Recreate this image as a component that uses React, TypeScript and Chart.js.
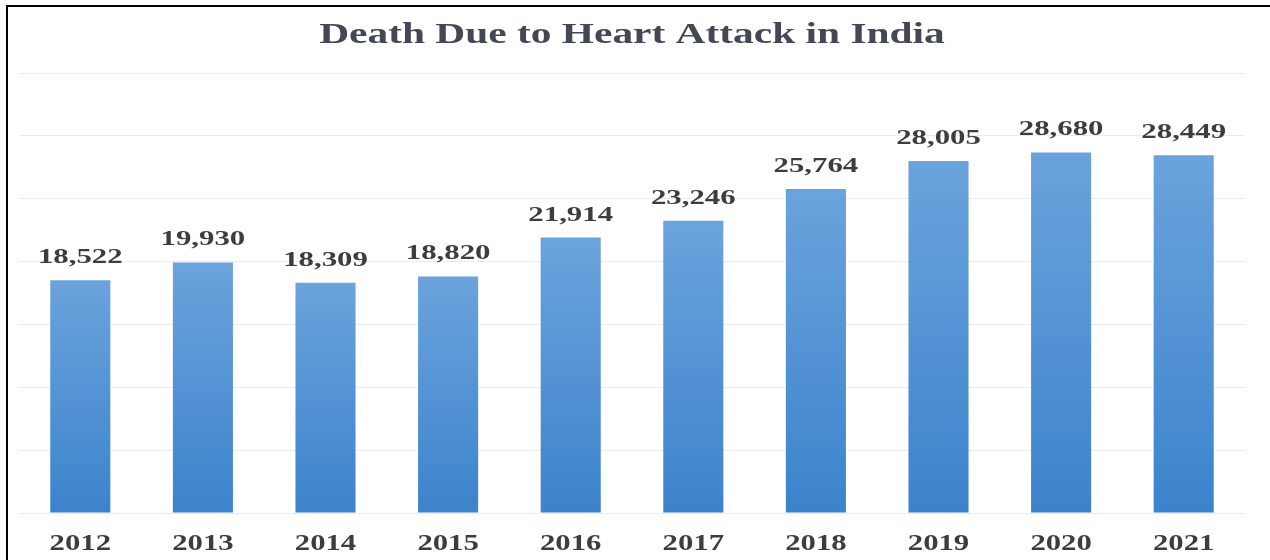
import React, { useEffect, useRef } from "react";
import { Chart, registerables } from "chart.js";

Chart.register(...registerables);

const titleText = "Death Due to Heart Attack in India";
const years = ["2012", "2013", "2014", "2015", "2016", "2017", "2018", "2019", "2020", "2021"];
const deaths = [18522, 19930, 18309, 18820, 21914, 23246, 25764, 28005, 28680, 28449];
const yMax = 35000;
const yStep = 5000;

const SERIF = "'Liberation Serif', 'Times New Roman', serif";

function drawStretched(
  ctx: CanvasRenderingContext2D,
  text: string,
  cx: number,
  baseline: number,
  font: string,
  color: string,
  sx: number
) {
  ctx.save();
  ctx.font = font;
  ctx.fillStyle = color;
  ctx.textAlign = "center";
  ctx.textBaseline = "alphabetic";
  ctx.translate(cx, baseline);
  ctx.scale(sx, 1);
  ctx.fillText(text, 0, 0);
  ctx.restore();
}

const textPlugin = {
  id: "customText",
  afterDraw(chart: any) {
    const ctx: CanvasRenderingContext2D = chart.ctx;
    const area = chart.chartArea;
    // frame lines (left + top)
    ctx.save();
    ctx.fillStyle = "#000000";
    ctx.fillRect(6, 5, 2, 560);
    ctx.fillRect(6, 5, 1270, 2);
    ctx.restore();

    // title
    drawStretched(ctx, titleText, (area.left + area.right) / 2, 43, `bold 30px ${SERIF}`, "#434756", 1.38);

    // data labels
    const meta = chart.getDatasetMeta(0);
    meta.data.forEach((el: any, i: number) => {
      const txt = deaths[i].toLocaleString("en-US");
      drawStretched(ctx, txt, el.x, el.y - 17, `bold 22px ${SERIF}`, "#3d3d3d", 1.4);
    });

    // x labels
    const xs = chart.scales.x;
    years.forEach((y, i) => {
      drawStretched(ctx, y, xs.getPixelForTick(i), area.bottom + 37, `bold 24px ${SERIF}`, "#3d3d3d", 1.28);
    });
  },
};

export default function App() {
  const ref = useRef<HTMLCanvasElement | null>(null);

  useEffect(() => {
    if (!ref.current) return;
    const chart = new Chart(ref.current, {
      type: "bar",
      data: {
        labels: years,
        datasets: [
          {
            data: deaths,
            backgroundColor: (c: any) => {
              const ch = c.chart;
              const ys = ch.scales && ch.scales.y;
              if (!ys || c.dataIndex === undefined || !ch.chartArea) return "#4f91d6";
              const top = ys.getPixelForValue(deaths[c.dataIndex]);
              const bottom = ys.getPixelForValue(0);
              if (!isFinite(top) || !isFinite(bottom) || top === bottom) return "#4f91d6";
              const g = ch.ctx.createLinearGradient(0, top, 0, bottom);
              g.addColorStop(0, "#6ba3dc");
              g.addColorStop(1, "#3c83cc");
              return g;
            },
            borderWidth: 0,
            categoryPercentage: 1,
            barPercentage: 0.49,
          },
        ],
      },
      options: {
        responsive: false,
        animation: false,
        layout: { padding: { left: 19, right: 25, top: 73, bottom: 39 } },
        plugins: {
          legend: { display: false },
          title: { display: false },
          tooltip: { enabled: false },
        },
        scales: {
          x: {
            grid: { display: false },
            border: { display: false },
            ticks: { display: false },
          },
          y: {
            min: 0,
            max: yMax,
            ticks: { display: false, stepSize: yStep },
            grid: { color: "#ececec", lineWidth: 1, drawTicks: false },
            border: { display: false },
          },
        },
      },
      plugins: [textPlugin],
    });
    return () => chart.destroy();
  }, []);

  return (
    <div style={{ position: "fixed", left: 0, top: 0, width: 1270, height: 560, background: "#ffffff" }}>
      <canvas ref={ref} width={1270} height={560} style={{ display: "block" }} />
    </div>
  );
}
